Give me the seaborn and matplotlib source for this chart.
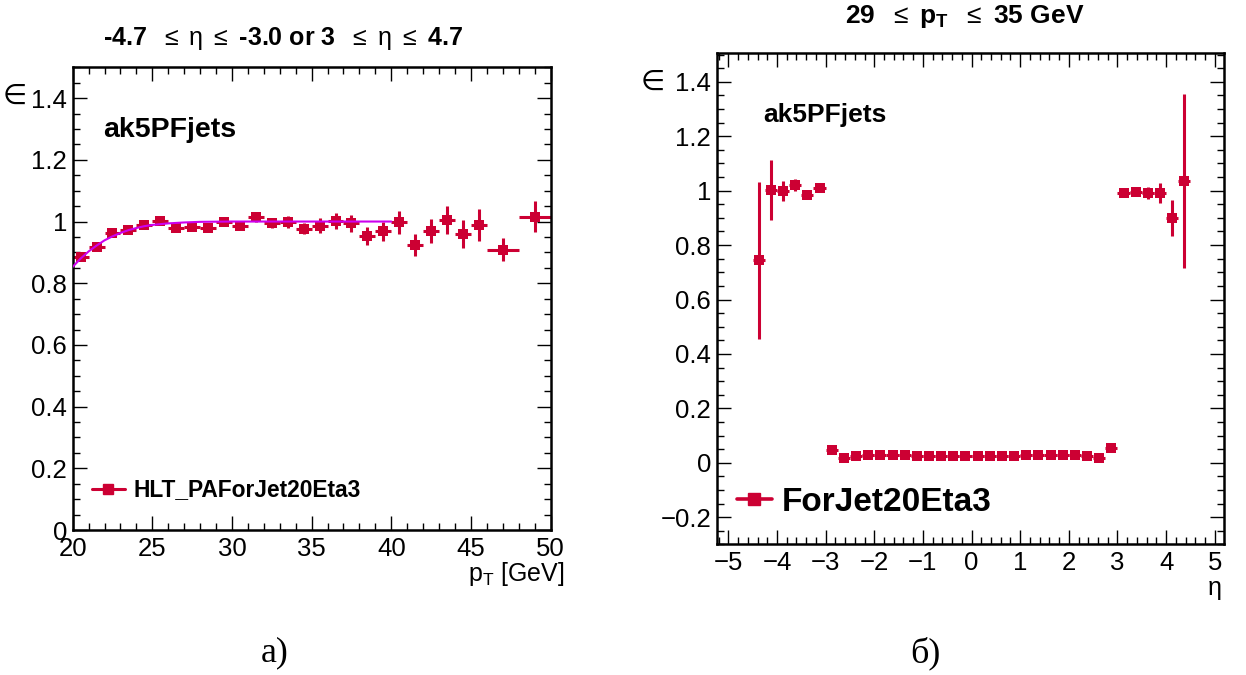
import numpy as np
import pandas as pd
import matplotlib
matplotlib.use("Agg")
import matplotlib.pyplot as plt
import seaborn as sns
from matplotlib.ticker import MultipleLocator, FuncFormatter
from matplotlib.lines import Line2D

# ---------------- data ----------------
# left panel: efficiency vs pT
pt_center = [20.5, 21.5, 22.5, 23.5, 24.5, 25.5, 26.5, 27.5, 28.5, 29.5,
             30.5, 31.5, 32.5, 33.5, 34.5, 35.5, 36.5, 37.5, 38.5, 39.5,
             40.5, 41.5, 42.5, 43.5, 44.5, 45.5, 47.0, 49.0]
pt_halfwidth = [0.5] * 26 + [1.0, 1.0]
pt_eff = [0.884, 0.917, 0.963, 0.974, 0.988, 1.001, 0.978, 0.983, 0.978, 0.998,
          0.987, 1.014, 0.994, 0.999, 0.976, 0.987, 1.002, 0.994, 0.952, 0.969,
          0.998, 0.925, 0.969, 1.006, 0.960, 0.988, 0.909, 1.015]
pt_err = [0.010, 0.010, 0.008, 0.008, 0.008, 0.010, 0.010, 0.010, 0.010, 0.012,
          0.012, 0.016, 0.016, 0.020, 0.018, 0.024, 0.027, 0.028, 0.029, 0.031,
          0.037, 0.036, 0.040, 0.045, 0.046, 0.052, 0.038, 0.050]

# fit curve
fit_pt = [20.0, 20.5, 21.0, 21.5, 22.0, 22.5, 23.0, 23.5, 24.0, 24.5, 25.0,
          26.0, 27.0, 28.0, 30.0, 35.0, 40.0]
fit_eff = [0.853, 0.880, 0.903, 0.922, 0.939, 0.952, 0.963, 0.972, 0.979, 0.985,
           0.989, 0.994, 0.997, 0.999, 1.000, 1.000, 1.000]

# right panel: efficiency vs eta
eta_center = [-4.375, -4.125, -3.875, -3.625, -3.375, -3.125,
              -2.875, -2.625, -2.375, -2.125, -1.875, -1.625, -1.375, -1.125,
              -0.875, -0.625, -0.375, -0.125, 0.125, 0.375, 0.625, 0.875,
              1.125, 1.375, 1.625, 1.875, 2.125, 2.375, 2.625, 2.875,
              3.125, 3.375, 3.625, 3.875, 4.125, 4.375]
eta_halfwidth = [0.125] * 36
eta_eff = [0.744, 1.002, 0.998, 1.020, 0.986, 1.010,
           0.048, 0.018, 0.023, 0.028, 0.028, 0.028, 0.028, 0.026,
           0.026, 0.026, 0.026, 0.026, 0.026, 0.026, 0.026, 0.026,
           0.028, 0.028, 0.028, 0.028, 0.028, 0.026, 0.018, 0.055,
           0.993, 0.996, 0.992, 0.990, 0.898, 1.035]
eta_err = [0.288, 0.110, 0.037, 0.022, 0.015, 0.008,
           0.006, 0.004, 0.004, 0.004, 0.004, 0.004, 0.004, 0.004,
           0.004, 0.004, 0.004, 0.004, 0.004, 0.004, 0.004, 0.004,
           0.004, 0.004, 0.004, 0.004, 0.004, 0.004, 0.004, 0.006,
           0.008, 0.010, 0.023, 0.037, 0.066, 0.320]

left_title = r"-4.7  $\mathrm{\leq\ \eta\ \leq}$ -3.0 or 3  $\mathrm{\leq\ \eta\ \leq}$ 4.7"
right_title = r"29  $\mathrm{\leq}$ p$_{\mathbf{T}}$  $\mathrm{\leq}$ 35 GeV"
left_legend = "HLT_PAForJet20Eta3"
right_legend = "ForJet20Eta3"
jet_label = "ak5PFjets"
left_xlabel = r"p$_{\mathrm{T}}$ [GeV]"
right_xlabel = "η"
caption_a = "а)"
caption_b = "б)"

# ---------------- style ----------------
sns.set_theme(style="ticks")
plt.rcParams["font.family"] = ["Liberation Sans", "DejaVu Sans"]
plt.rcParams["mathtext.fontset"] = "custom"
plt.rcParams["mathtext.rm"] = "Liberation Sans"
plt.rcParams["mathtext.bf"] = "Liberation Sans:bold"
plt.rcParams["mathtext.it"] = "Liberation Sans:italic"
plt.rcParams["axes.unicode_minus"] = True
plt.rcParams["text.color"] = "black"
plt.rcParams["axes.labelcolor"] = "black"
plt.rcParams["xtick.color"] = "black"
plt.rcParams["ytick.color"] = "black"
plt.rcParams["legend.labelcolor"] = "black"

C = "#cc0033"
FITC = "#cc00ee"

fig = plt.figure(figsize=(12.46, 6.75), dpi=100)
ax1 = fig.add_axes([0.0583, 0.2148, 0.3836, 0.6855])
ax2 = fig.add_axes([0.5752, 0.1936, 0.4071, 0.7274])


def fmt(v, p):
    s = "%g" % round(v, 6)
    if s == "-0":
        s = "0"
    return s.replace("-", "\u2212")


def style_axes(ax, xmaj, xmin, ymaj, ymin):
    ax.xaxis.set_major_locator(MultipleLocator(xmaj))
    ax.xaxis.set_minor_locator(MultipleLocator(xmin))
    ax.yaxis.set_major_locator(MultipleLocator(ymaj))
    ax.yaxis.set_minor_locator(MultipleLocator(ymin))
    ax.xaxis.set_major_formatter(FuncFormatter(fmt))
    ax.yaxis.set_major_formatter(FuncFormatter(fmt))
    ax.tick_params(which="both", direction="in", top=True, right=True,
                   color="black", width=1.0, labelsize=18.5, labelcolor="black")
    ax.tick_params(which="major", length=10)
    ax.tick_params(which="minor", length=5)
    ax.tick_params(axis="x", which="major", pad=5)
    ax.tick_params(axis="y", which="major", pad=4)
    for sp in ax.spines.values():
        sp.set_visible(True)
        sp.set_linewidth(1.8)
        sp.set_color("black")
    ax.set_facecolor("white")
    ax.set_xlabel("")
    ax.set_ylabel("")


# ---------------- left panel ----------------
ax1.errorbar(pt_center, pt_eff, xerr=pt_halfwidth, yerr=pt_err, fmt="none",
             ecolor=C, elinewidth=2.2, capsize=0, zorder=2)
sns.scatterplot(x=pt_center, y=pt_eff, marker="s", s=56, color=C,
                edgecolor=C, linewidth=0, ax=ax1, zorder=3)
sns.lineplot(x=fit_pt, y=fit_eff, color=FITC, linewidth=1.5, ax=ax1, zorder=4)
ax1.set_xlim(20, 50)
ax1.set_ylim(0, 1.5)
style_axes(ax1, 5, 1, 0.2, 0.05)
ax1.text(0.064, 0.865, jet_label, transform=ax1.transAxes, fontsize=20.5,
         fontweight="bold", ha="left", va="center", color="black")
h1 = Line2D([], [], color=C, linewidth=2.2, marker="s", markersize=7)
ax1.legend(handles=[h1], labels=[left_legend], loc="center left",
           bbox_to_anchor=(0.040, 0.0865), frameon=False, borderpad=0,
           borderaxespad=0, handlelength=1.45, handletextpad=0.38,
           prop={"weight": "bold", "size": 16.4})

# ---------------- right panel ----------------
ax2.errorbar(eta_center, eta_eff, xerr=eta_halfwidth, yerr=eta_err, fmt="none",
             ecolor=C, elinewidth=2.2, capsize=0, zorder=2)
sns.scatterplot(x=eta_center, y=eta_eff, marker="s", s=56, color=C,
                edgecolor=C, linewidth=0, ax=ax2, zorder=3)
ax2.set_xlim(-5.24, 5.19)
ax2.set_ylim(-0.3, 1.505)
style_axes(ax2, 1, 0.2, 0.2, 0.05)
ax2.text(0.092, 0.875, jet_label, transform=ax2.transAxes, fontsize=19,
         fontweight="bold", ha="left", va="center", color="black")
h2 = Line2D([], [], color=C, linewidth=2.6, marker="s", markersize=8)
ax2.legend(handles=[h2], labels=[right_legend], loc="center left",
           bbox_to_anchor=(0.040, 0.086), frameon=False, borderpad=0,
           borderaxespad=0, handlelength=1.05, handletextpad=0.3,
           prop={"weight": "bold", "size": 24})

# ---------------- figure texts ----------------
W, H = 1246.0, 675.0
fig.text(283 / W, 1 - 38 / H, left_title, fontsize=18, fontweight="bold",
         ha="center", va="center")
fig.text(965 / W, 1 - 17 / H, right_title, fontsize=19, fontweight="bold",
         ha="center", va="center")
fig.text(15 / W, 1 - 97 / H, "∈", fontsize=20, ha="center", va="center")
fig.text(653 / W, 1 - 83 / H, "∈", fontsize=20, ha="center", va="center")
fig.text(565 / W, 1 - 574 / H, left_xlabel, fontsize=18, ha="right", va="center")
fig.text(1222 / W, 1 - 588 / H, right_xlabel, fontsize=18, ha="right", va="center")
fig.text(275 / W, 1 - 653 / H, caption_a, fontsize=26, ha="center", va="center",
         family=["Liberation Serif", "DejaVu Serif"])
fig.text(925 / W, 1 - 653 / H, caption_b, fontsize=26, ha="center", va="center",
         family=["Liberation Serif", "DejaVu Serif"])

fig.savefig("out.png", dpi=100, facecolor="white")
